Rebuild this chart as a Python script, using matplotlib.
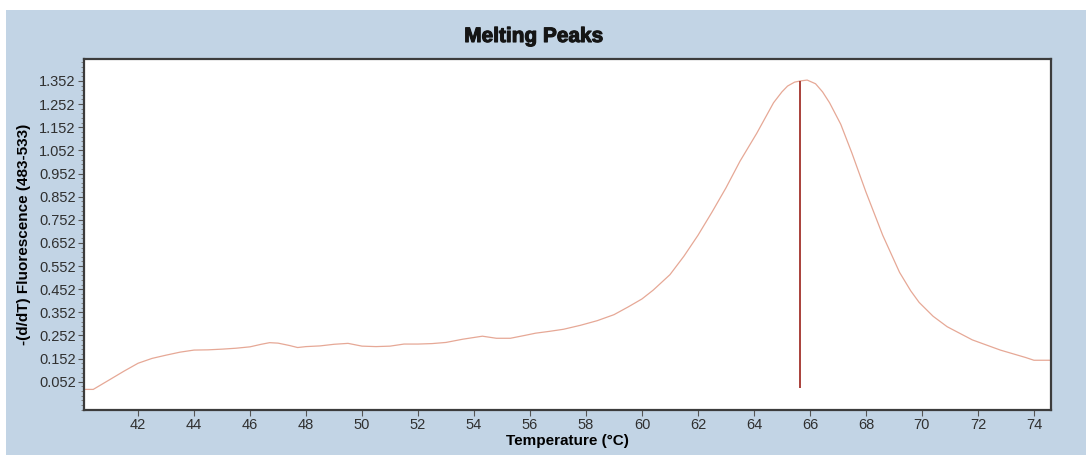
import matplotlib.pyplot as plt
import matplotlib.patheffects as pe
import numpy as np
from matplotlib.patches import Rectangle

# Кривая плавления: температура и -(d/dT) флуоресценция
temp = [
    40.07, 40.4, 41.0, 41.5, 42.0, 42.5, 43.0, 43.5, 44.0, 44.5,
    45.0, 45.5, 46.0, 46.4, 46.7, 47.0, 47.4, 47.7, 48.0, 48.5,
    49.0, 49.5, 50.0, 50.5, 51.0, 51.5, 52.0, 52.5, 53.0, 53.6,
    54.3, 54.8, 55.3, 55.8, 56.2, 56.7, 57.2, 57.8, 58.4, 59.0,
    59.5, 60.0, 60.4, 61.0, 61.5, 62.0, 62.5, 63.0, 63.5, 64.1,
    64.4, 64.7, 65.0, 65.2, 65.45, 65.65, 65.9, 66.2, 66.45, 66.7,
    67.1, 67.5, 68.0, 68.6, 69.2, 69.6, 69.9, 70.4, 70.9, 71.8,
    72.8, 73.7, 74.0, 74.6,
]
fluor = [
    0.019, 0.019, 0.062, 0.098, 0.132, 0.153, 0.167, 0.180, 0.189, 0.190,
    0.193, 0.197, 0.203, 0.214, 0.221, 0.219, 0.209, 0.200, 0.204, 0.207,
    0.214, 0.218, 0.206, 0.204, 0.206, 0.215, 0.215, 0.217, 0.222, 0.236,
    0.249, 0.240, 0.240, 0.252, 0.262, 0.270, 0.279, 0.296, 0.316, 0.342,
    0.375, 0.410, 0.448, 0.515, 0.595, 0.685, 0.785, 0.890, 1.005, 1.126,
    1.192, 1.258, 1.305, 1.330, 1.347, 1.352, 1.356, 1.340, 1.305, 1.258,
    1.165, 1.040, 0.872, 0.685, 0.525, 0.445, 0.395, 0.335, 0.290, 0.233,
    0.189, 0.157, 0.145, 0.145,
]

# Отметка пика
peak_temp = 65.65
peak_low = 0.025
peak_high = 1.352

x_ticks = np.arange(42, 75, 2)
y_ticks = np.arange(0.052, 1.36, 0.1)

plt.rcParams["font.family"] = ["Liberation Sans", "DejaVu Sans"]

fig = plt.figure(figsize=(10.86, 4.55), dpi=100, facecolor="white")
fig.patches.append(
    Rectangle((6 / 1086, 0), 1, 1 - 10 / 455, transform=fig.transFigure,
              facecolor="#c2d4e5", edgecolor="none", zorder=-10)
)

ax = fig.add_axes([84 / 1086, 45 / 455, 967 / 1086, 351 / 455])
ax.plot(temp, fluor, color="#e6a896", linewidth=0.9)
ax.vlines(peak_temp, peak_low, peak_high, color="#a2322b", linewidth=1.3)

ax.set_xlim(40.07, 74.61)
ax.set_ylim(-0.07, 1.447)
ax.set_xticks(x_ticks)
ax.set_yticks(y_ticks)
ax.set_yticklabels([f"{v:.3f}" for v in y_ticks])
ax.set_yticks(np.arange(-0.068, 1.44, 0.02), minor=True)

for s in ax.spines.values():
    s.set_linewidth(1.6)
    s.set_color("#3c3c3c")
ax.tick_params(axis="both", which="major", labelsize=10.5, length=4,
               color="#555555", labelcolor="#303030", pad=2)
ax.tick_params(axis="y", which="minor", length=2, color="#777777")

ax.set_xlabel("Temperature (°C)", fontsize=11, fontweight="bold", labelpad=1)
ax.set_ylabel("-(d/dT) Fluorescence (483-533)", fontsize=11,
              fontweight="bold", labelpad=6)

fig.text(534 / 1086, 1 - 36.5 / 455, "Melting Peaks", fontsize=15,
         fontweight="bold", ha="center", va="center", color="#151515",
         path_effects=[pe.withStroke(linewidth=0.8, foreground="#151515")])

fig.savefig("out.png", dpi=100, facecolor=fig.get_facecolor())
